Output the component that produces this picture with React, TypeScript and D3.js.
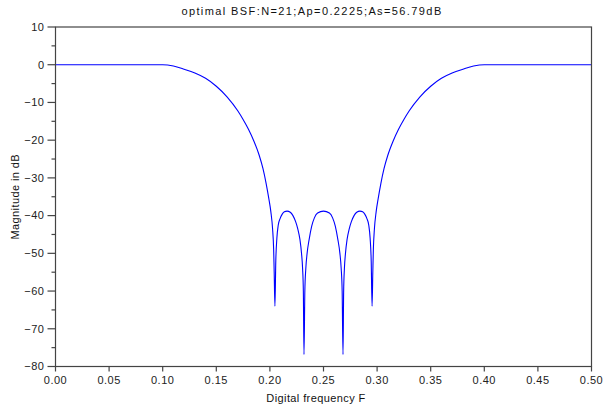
import React, { useEffect, useRef } from "react";
import * as d3 from "d3";

const TITLE = "optimal BSF:N=21;Ap=0.2225;As=56.79dB";
const X_LABEL = "Digital frequency F";
const Y_LABEL = "Magnitude in dB";

const freq: number[] = [
  0, 0.1, 0.11, 0.12, 0.13, 0.14, 0.15, 0.16, 0.17, 0.175, 0.18, 0.185, 0.19, 0.1935, 0.1965,
  0.199, 0.2009, 0.2025, 0.2035, 0.204, 0.2047, 0.2055, 0.2065, 0.2078, 0.2095, 0.2115,
  0.2135, 0.216, 0.219, 0.2215, 0.224, 0.226, 0.228, 0.2295, 0.2305, 0.2312, 0.2318, 0.2326,
  0.2335, 0.2347, 0.2365, 0.239, 0.2415, 0.2445, 0.25,
  0.2555, 0.2585, 0.261, 0.2635, 0.2653, 0.2665, 0.2674, 0.2682, 0.2688, 0.2695, 0.2705, 0.272,
  0.274, 0.276, 0.2785, 0.281, 0.284, 0.2865, 0.2885, 0.2905, 0.2922, 0.2935, 0.2945, 0.2953,
  0.296, 0.2965, 0.2975, 0.2991, 0.301, 0.3035, 0.3065, 0.31, 0.315, 0.32, 0.325, 0.33, 0.34,
  0.35, 0.36, 0.37, 0.38, 0.39, 0.4, 0.5,
];
const magDb: number[] = [
  0, 0, -0.35, -1.2, -2.2, -3.6, -5.7, -8.5, -12.2, -14.5, -17.1, -20.2, -24.0, -27.5, -31.5,
  -35.5, -39, -43.5, -49, -55, -64, -52, -46, -42.5, -40.8, -39.6,
  -39.0, -38.8, -39.1, -40, -41.6, -43.5, -46.3, -50, -54, -60, -76.8, -60,
  -54, -50, -46.5, -42.8, -40.6, -39.3, -38.8,
  -39.3, -40.6, -42.8, -46.5, -50, -54, -60, -76.8, -60, -54, -50, -46.3,
  -43.5, -41.6, -40, -39.1, -38.8, -39.0, -39.6, -40.8, -42.5, -46, -52, -64,
  -55, -49, -43.5, -39, -35.5, -31.5, -27.5, -24.0, -20.2, -17.1, -14.5, -12.2, -8.5,
  -5.7, -3.6, -2.2, -1.2, -0.35, 0, 0,
];
const xTicks: number[] = [0, 0.05, 0.1, 0.15, 0.2, 0.25, 0.3, 0.35, 0.4, 0.45, 0.5];
const yTicks: number[] = [10, 0, -10, -20, -30, -40, -50, -60, -70, -80];
const yMinorTicks: number[] = [5, -5, -15, -25, -35, -45, -55, -65, -75];

export default function App() {
  const ref = useRef<SVGSVGElement>(null);
  useEffect(() => {
    const svg = d3.select(ref.current);
    svg.selectAll("*").remove();
    const L = 55.5, R = 591.5, T = 27, B = 366.5;
    const x = d3.scaleLinear().domain([0, 0.5]).range([L, R]);
    const y = d3.scaleLinear().domain([-80, 10]).range([B, T]);
    const font = "'Liberation Sans', Arial, sans-serif";
    const axisColor = "#444";

    svg.append("rect").attr("x", 0).attr("y", 0).attr("width", 604).attr("height", 408).attr("fill", "#fff");

    const data = freq.map((f, i) => [f, magDb[i]] as [number, number]);
    const line = d3.line<[number, number]>().x((d) => x(d[0])).y((d) => y(d[1])).curve(d3.curveMonotoneX);
    svg.append("path").attr("d", line(data)!).attr("fill", "none").attr("stroke", "#0000ff").attr("stroke-width", 1.1);

    // box
    svg.append("rect").attr("x", L).attr("y", T).attr("width", R - L).attr("height", B - T)
      .attr("fill", "none").attr("stroke", axisColor).attr("stroke-width", 1.2);

    // y ticks
    const gy = svg.append("g");
    yTicks.forEach((v) => {
      gy.append("line").attr("x1", L - 8).attr("x2", L).attr("y1", y(v)).attr("y2", y(v)).attr("stroke", axisColor).attr("stroke-width", 1.2);
      gy.append("text").attr("x", L - 11).attr("y", y(v)).attr("dy", "0.35em").attr("text-anchor", "end")
        .attr("font-family", font).attr("font-size", 11).attr("letter-spacing", 0.5).attr("fill", "#222").text(d3.format("d")(v));
    });
    yMinorTicks.forEach((v) => {
      gy.append("line").attr("x1", L - 4).attr("x2", L).attr("y1", y(v)).attr("y2", y(v)).attr("stroke", axisColor).attr("stroke-width", 1.2);
    });

    // x ticks
    const gx = svg.append("g");
    xTicks.forEach((v) => {
      gx.append("line").attr("x1", x(v)).attr("x2", x(v)).attr("y1", B).attr("y2", B + 5).attr("stroke", axisColor).attr("stroke-width", 1.2);
      gx.append("text").attr("x", x(v)).attr("y", B + 17).attr("text-anchor", "middle")
        .attr("font-family", font).attr("font-size", 11).attr("letter-spacing", 0.5).attr("fill", "#222").text(d3.format(".2f")(v));
    });

    svg.append("text").attr("x", 312).attr("y", 15).attr("text-anchor", "middle")
      .attr("font-family", font).attr("font-size", 11).attr("letter-spacing", 1.4).attr("fill", "#111").text(TITLE);
    svg.append("text").attr("x", 316).attr("y", 402).attr("text-anchor", "middle")
      .attr("font-family", font).attr("font-size", 11).attr("letter-spacing", 0.4).attr("fill", "#111").text(X_LABEL);
    svg.append("text").attr("transform", `translate(19,${(T + B) / 2}) rotate(-90)`).attr("text-anchor", "middle")
      .attr("font-family", font).attr("font-size", 11).attr("letter-spacing", 0.4).attr("fill", "#111").text(Y_LABEL);
  }, []);
  return (
    <div style={{ position: "fixed", left: 0, top: 0 }}>
      <svg ref={ref} width={604} height={408} style={{ display: "block" }} />
    </div>
  );
}
